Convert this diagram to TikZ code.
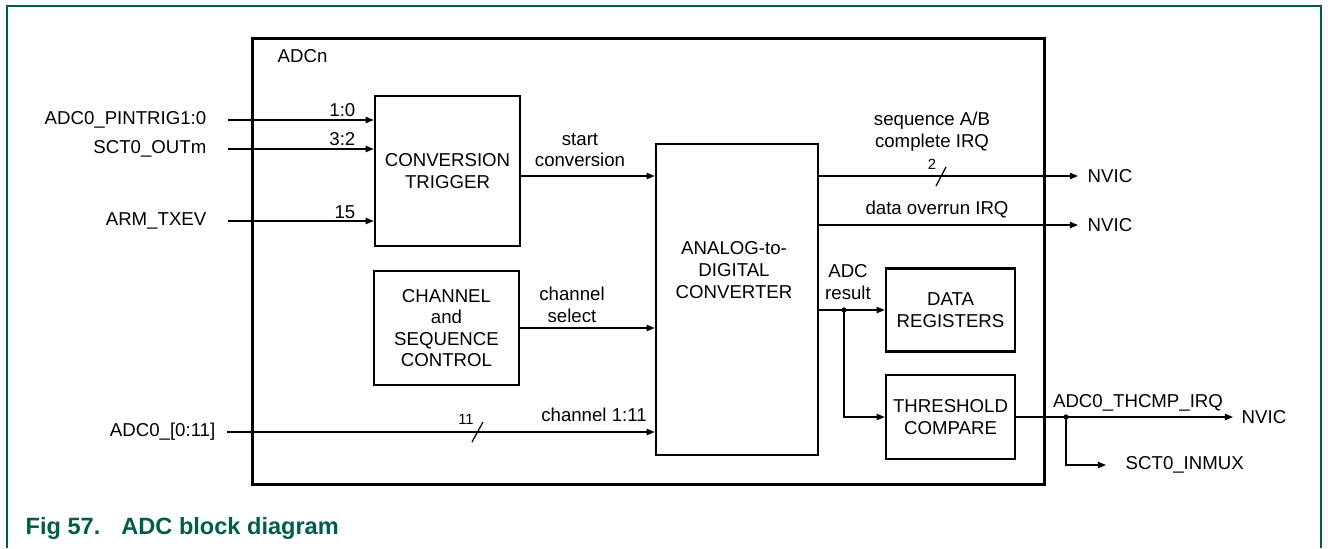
\documentclass[tikz,border=0pt]{standalone}
\usepackage{fontspec}
\setmainfont{Liberation Sans}
\usetikzlibrary{arrows.meta}
\definecolor{nxpgreen}{RGB}{0,94,72}
\begin{document}
\begin{tikzpicture}[x=0.01cm,y=-0.01cm,
  lbl/.style={font=\fontsize{5.3}{6.2}\selectfont, inner sep=0pt, align=center},
  small/.style={font=\fontsize{4.2}{5}\selectfont, inner sep=0pt},
  blk/.style={draw, line width=0.7pt, inner sep=0pt, align=center, font=\fontsize{5.3}{6.1}\selectfont},
  arr/.style={line width=0.35pt, -{Triangle[length=2.3pt,width=1.8pt]}},
  wire/.style={line width=0.35pt},
  jdot/.style={circle, fill, inner sep=0pt, minimum size=1.5pt}
]
\useasboundingbox (0,0) rectangle (1328,548);
\fill[white] (0,0) rectangle (1328,548);
\draw[nxpgreen, line width=0.45pt] (7,548) -- (7,6) -- (1321,6) -- (1321,548);

% blocks
\node[draw, line width=0.85pt, minimum width=7.91cm, minimum height=4.45cm, inner sep=0pt] (adcn) at (648.5,261.5) {};
\node[lbl, anchor=west] (adcnl) at (277,56) {ADCn};
\node[blk, minimum width=1.45cm, minimum height=1.50cm] (ct) at (447.5,171) {CONVERSION\\TRIGGER};
\node[blk, minimum width=1.45cm, minimum height=1.14cm] (cs) at (446.5,328) {CHANNEL\\and\\SEQUENCE\\CONTROL};
\node[blk, minimum width=1.62cm, minimum height=3.11cm] (conv) at (737,299.5) {};
\node[lbl] (convt) at (734,270) {ANALOG-to-\\DIGITAL\\CONVERTER};
\node[blk, minimum width=1.29cm, minimum height=0.83cm] (dr) at (950.5,310) {DATA\\REGISTERS};
\node[blk, minimum width=1.29cm, minimum height=0.84cm] (tc) at (950.5,417) {THRESHOLD\\COMPARE};

% inputs
\node[lbl, anchor=east] (pin) at (207,120) {ADC0\_PINTRIG1:0};
\node[lbl, anchor=east] (sct) at (207,149) {SCT0\_OUTm};
\node[lbl, anchor=east] (arm) at (207,221) {ARM\_TXEV};
\node[lbl, anchor=east] (ain) at (216,432) {ADC0\_[0:11]};
\draw[arr] ([xshift=0.21cm]pin.east) -- (pin.east -| ct.west);
\draw[arr] ([xshift=0.21cm]sct.east) -- (sct.east -| ct.west);
\draw[arr] ([xshift=0.21cm]arm.east) -- (arm.east -| ct.west);
\draw[arr] ([xshift=0.11cm]ain.east) -- (ain.east -| conv.west);
\node[lbl, anchor=south east] (b10) at (356,117) {1:0};
\node[lbl, anchor=south east] (b32) at (356,146) {3:2};
\node[lbl, anchor=south east] (b15) at (356,219) {15};
\draw[wire] (472,442) -- (483,422);
\node[small] (n11) at (466,419) {11};
\node[lbl] (ch111) at (594,415) {channel 1:11};

% internal
\coordinate (ys) at (580,176);
\draw[arr] (ct.east |- ys) -- (conv.west |- ys);
\node[lbl] (sclbl) at (580,150) {start\\conversion};
\draw[arr] (cs.east) -- (cs.east -| conv.west);
\node[lbl] (cslbl) at (572,305) {channel\\select};

% outputs
\node[lbl, anchor=west] (nv1) at (1087,176) {NVIC};
\node[lbl, anchor=west] (nv2) at (1087,225) {NVIC};
\draw[arr] (conv.east |- nv1) -- ([xshift=-0.09cm]nv1.west);
\draw[arr] (conv.east |- nv2) -- ([xshift=-0.09cm]nv2.west);
\draw[wire] (936,186) -- (946,167);
\node[small] (n2) at (932,164) {2};
\node[lbl] (seqlbl) at (932,132) {sequence A/B\\complete IRQ};
\node[lbl] (ovlbl) at (937,210) {data overrun IRQ};

\node[lbl] (reslbl) at (848,282) {ADC\\result};
\draw[arr] (conv.east |- dr.west) -- (dr.west);
\coordinate (j1) at (844,310);
\draw[arr] (j1) |- (tc.west);
\node[jdot] at (j1) {};

\node[lbl, anchor=west] (nv3) at (1241,417) {NVIC};
\draw[arr] (tc.east) -- ([xshift=-0.08cm]nv3.west);
\coordinate (j2) at (1066,417);
\node[lbl, anchor=west] (mux) at (1125,465) {SCT0\_INMUX};
\draw[arr] (j2) |- ([xshift=-0.19cm]mux.west);
\node[jdot] at (j2) {};
\node[lbl] (thlbl) at (1138,403) {ADC0\_THCMP\_IRQ};

% caption
\node[anchor=west, inner sep=0pt, font=\bfseries\fontsize{6.7}{8}\selectfont, text=nxpgreen] (cap) at (25,528) {Fig 57.\hspace{6pt}ADC block diagram};
\end{tikzpicture}
\end{document}
